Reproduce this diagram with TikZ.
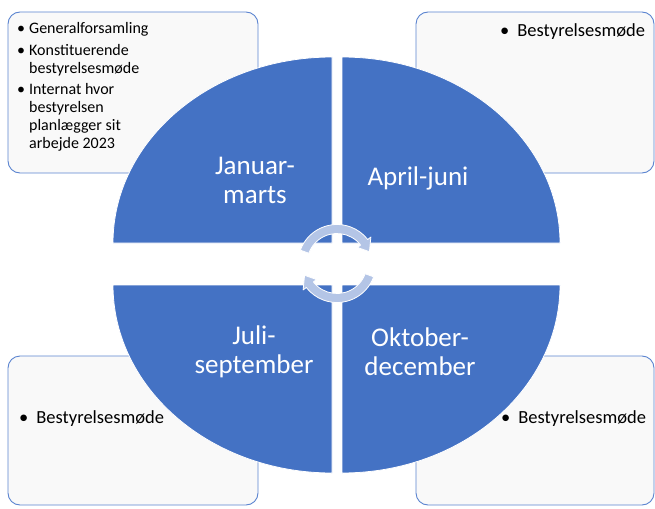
\documentclass[tikz,border=0pt]{standalone}
\usepackage{fontspec}
\setmainfont{Carlito}
\usetikzlibrary{calc}
\definecolor{quarterblue}{HTML}{4472C4}
\definecolor{boxline}{HTML}{5B84D0}
\definecolor{boxfill}{HTML}{F9F9F9}
\definecolor{cyclefill}{HTML}{B4C5E6}
\tikzset{
  notebox/.style={draw=boxline, fill=boxfill, line width=0.9pt, rounded corners=12pt, inner sep=0pt},
  quarter/.style={fill=quarterblue, draw=white, line width=0.8pt},
  season/.style={text=white, align=center, font=\fontsize{27}{29}\selectfont, inner sep=0pt},
  bulletnote/.style={anchor=base west, inner sep=0pt, font=\fontsize{18.5}{22}\selectfont},
  cyclearrow/.style={fill=cyclefill, draw=white, line width=0.8pt, line join=round}
}
\newcommand{\bitem}[1]{\textbullet\hspace{8pt}#1}
\begin{document}
\begin{tikzpicture}[x=1pt, y=-1pt]
\useasboundingbox (0,0) rectangle (655,508);
% note boxes behind the circle
\node[notebox, minimum width=250pt, minimum height=161pt] (boxJan) at (133,92.5) {};
\node[notebox, minimum width=238pt, minimum height=161pt] (boxApr) at (535,92.5) {};
\node[notebox, minimum width=250pt, minimum height=149pt] (boxJul) at (133,430.5) {};
\node[notebox, minimum width=238pt, minimum height=149pt] (boxOkt) at (535,430.5) {};
% the four quarters
\coordinate (mid) at (337,263.5);
\path[quarter] (332,243) -- (113,243) arc[start angle=180, end angle=270, x radius=219, y radius=186] -- cycle;
\path[quarter] (342,243) -- (342,57) arc[start angle=270, end angle=360, x radius=218, y radius=186] -- cycle;
\path[quarter] (332,285) -- (332,473) arc[start angle=90, end angle=180, x radius=219, y radius=188] -- cycle;
\path[quarter] (342,285) -- (560,285) arc[start angle=0, end angle=90, x radius=218, y radius=188] -- cycle;
% turning arrows
\path[cyclearrow] ($(mid)+(200:39)$) arc[start angle=200, end angle=322, radius=39]
  -- ($(mid)+(322:43)$) -- ($(mid)+(340:34.5)$) -- ($(mid)+(322:26)$)
  -- ($(mid)+(322:30)$) arc[start angle=322, end angle=200, radius=30] -- cycle;
\path[cyclearrow] ($(mid)+(20:39)$) arc[start angle=20, end angle=142, radius=39]
  -- ($(mid)+(142:43)$) -- ($(mid)+(160:34.5)$) -- ($(mid)+(142:26)$)
  -- ($(mid)+(142:30)$) arc[start angle=142, end angle=20, radius=30] -- cycle;
% quarter labels
\node[season] (txtJan) at (255,180) {Januar-\\marts};
\node[season] (txtApr) at (418,178) {April-juni};
\node[season] (txtJul) at (254,352) {Juli-\\september};
\node[season] (txtOkt) at (420,352) {Oktober-\\december};
% notes
\node[bulletnote, font=\fontsize{16}{18}\selectfont] (listJan) at (17,34) {%
  \begin{tabular}[t]{@{}l@{\hspace{4pt}}l@{}}
  \textbullet & Generalforsamling\\[3.5pt]
  \textbullet & Konstituerende\\
              & bestyrelsesmøde\\[3.5pt]
  \textbullet & Internat hvor\\
              & bestyrelsen\\
              & planlægger sit\\
              & arbejde 2023
  \end{tabular}};
\node[bulletnote] (listApr) at (500,37) {\bitem{Bestyrelsesmøde}};
\node[bulletnote] (listJul) at (19,423) {\bitem{Bestyrelsesmøde}};
\node[bulletnote] (listOkt) at (501,423) {\bitem{Bestyrelsesmøde}};
\end{tikzpicture}
\end{document}
